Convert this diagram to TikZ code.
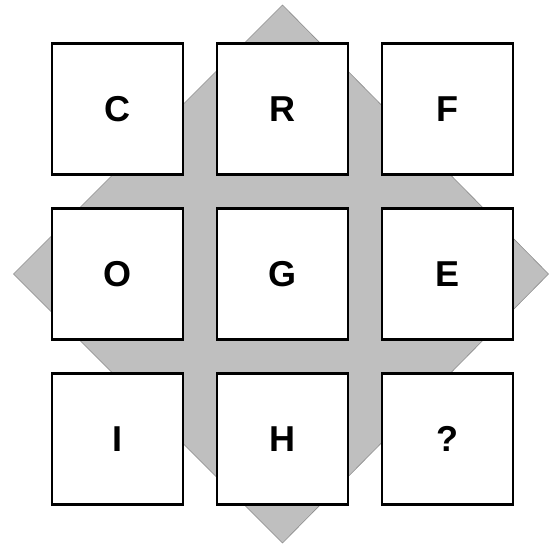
\documentclass[tikz,border=0pt]{standalone}
\usepackage{fontspec}
\setsansfont{Liberation Sans}
\usetikzlibrary{positioning, backgrounds}
\definecolor{tileGray}{HTML}{BFBFBF}
\definecolor{tileEdge}{HTML}{8C8C8C}
\tikzset{
  letterBox/.style={rectangle, draw=black, fill=white, line width=2.3pt,
                    minimum size=131pt, inner sep=0pt, outer sep=0pt,
                    font=\sffamily\bfseries\fontsize{36}{36}\selectfont},
  backDiamond/.style={fill=tileGray, draw=tileEdge, line width=0.6pt},
}
\begin{document}
\begin{tikzpicture}[x=1pt, y=1pt, node distance=34pt and 34pt]
    \useasboundingbox (0,0) rectangle (552,-546);

    % fila superior
    \node[letterBox] (C) at (117.5,-109) {C};
    \node[letterBox, right=of C] (R) {R};
    \node[letterBox, right=of R] (F) {F};
    % fila central
    \node[letterBox, below=of C] (O) {O};
    \node[letterBox, right=of O] (G) {G};
    \node[letterBox, right=of G] (E) {E};
    % fila inferior
    \node[letterBox, below=of O] (I) {I};
    \node[letterBox, right=of I] (H) {H};
    \node[letterBox, right=of H] (Q) {?};

    % rombo gris detras de las casillas
    \begin{scope}[on background layer]
      \path (G.center) ++(0,269) coordinate (dTop)
            (G.center) ++(0,-269) coordinate (dBot)
            (G.center) ++(-269,0) coordinate (dLeft)
            (G.center) ++(266,0) coordinate (dRight);
      \draw[backDiamond] (dTop) -- (dRight) -- (dBot) -- (dLeft) -- cycle;
    \end{scope}
\end{tikzpicture}
\end{document}
